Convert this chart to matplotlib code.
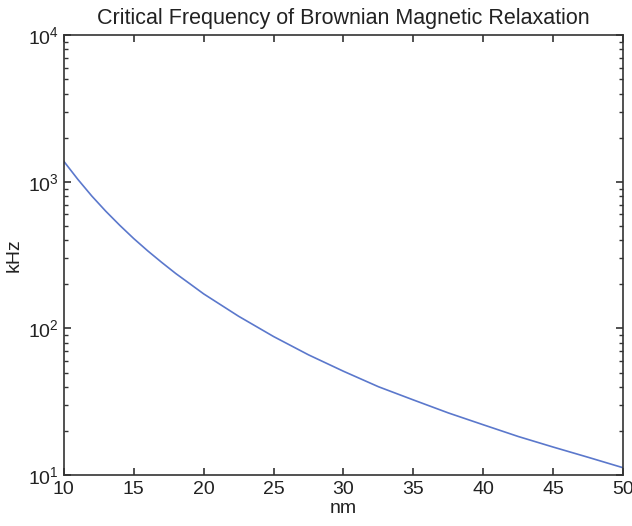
import matplotlib
matplotlib.use("Agg")
import matplotlib.pyplot as plt
from matplotlib.ticker import LogLocator, NullFormatter, MultipleLocator

# values
diameter_nm = [10, 11, 12, 13, 14, 15, 16, 17, 18, 19, 20, 22.5, 25, 27.5,
               30, 32.5, 35, 37.5, 40, 42.5, 45, 47.5, 50]
freq_khz = [1380, 1040, 800, 630, 505, 410, 338, 282, 237, 202, 172, 121,
            88, 66, 51, 40, 32.5, 26.5, 22, 18.3, 15.5, 13.2, 11.2]

plt.rcParams['font.family'] = ['Liberation Sans', 'DejaVu Sans']
plt.rcParams['mathtext.default'] = 'regular'

fig = plt.figure(figsize=(6.32, 5.26), dpi=100)
ax = fig.add_axes([0.101, 0.097, 0.885, 0.836])

ax.plot(diameter_nm, freq_khz, color='#5b78cc', linewidth=1.2)

ax.set_yscale('log')
ax.set_xlim(10, 50)
ax.set_ylim(10, 10000)
ax.xaxis.set_major_locator(MultipleLocator(5))
ax.yaxis.set_major_locator(LogLocator(base=10, numticks=10))
ax.yaxis.set_minor_locator(LogLocator(base=10, subs=range(2, 10), numticks=10))
ax.yaxis.set_minor_formatter(NullFormatter())

for s in ax.spines.values():
    s.set_color('#333333')
    s.set_linewidth(1.2)
ax.tick_params(which='both', direction='in', top=True, right=True,
               colors='#333333', labelcolor='#222222', labelsize=14)
ax.tick_params(which='major', length=5, width=1.2)
ax.tick_params(which='minor', length=3, width=1.0)
ax.tick_params(axis='x', pad=4)

ax.set_title("Critical Frequency of Brownian Magnetic Relaxation",
             fontsize=15.5, color='#222222', pad=8)
ax.set_xlabel("nm", fontsize=14, color='#222222', labelpad=2)
ax.set_ylabel("kHz", fontsize=14, color='#222222', labelpad=4)

fig.savefig("out.png", dpi=100)
